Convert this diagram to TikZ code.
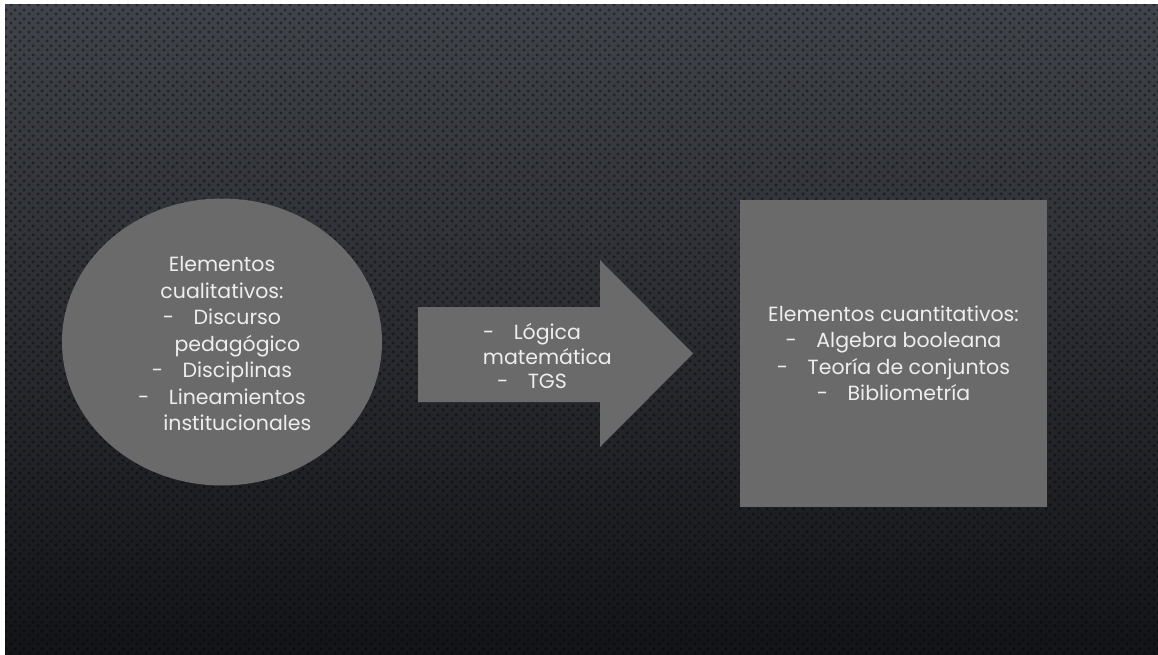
\documentclass[tikz,border=0pt]{standalone}
\usepackage{fontspec}
\setmainfont{Poppins}
\usetikzlibrary{positioning,shapes.geometric,patterns.meta}
\definecolor{fondoalto}{RGB}{64,67,73}
\definecolor{fondomedio}{RGB}{44,46,51}
\definecolor{fondobajo}{RGB}{19,20,24}
\definecolor{formagris}{RGB}{106,106,106}
\definecolor{textoclaro}{RGB}{238,238,238}
\def\sangria{\hspace*{1.5em}}
\tikzstyle{forma}=[fill=formagris,text=textoclaro,align=center,inner sep=0pt,
  font=\fontsize{20.5}{26.5}\selectfont]
\tikzstyle{texto}=[text=textoclaro,align=center,inner sep=0pt,
  font=\fontsize{20.5}{24.5}\selectfont]
\newcommand{\guion}{-\hspace{0.95em}}
\tikzdeclarepattern{
  name=puntos,
  type=uncolored,
  bounding box={(0pt,0pt) and (9pt,9pt)},
  tile size={(9pt,9pt)},
  code={
    \fill (2.25pt,2.25pt) circle (1.9pt);
    \fill (6.75pt,6.75pt) circle (1.9pt);
  }
}

\begin{document}
\begin{tikzpicture}[x=1pt,y=-1pt]
      \useasboundingbox (0,0) rectangle (1158,655);
      \fill[white] (0,0) rectangle (1158,655);
      % fondo
      \shade[top color=fondoalto,middle color=fondomedio,bottom color=fondobajo] (5,5) rectangle (1158,655);
      \fill[pattern=puntos,pattern color=black,fill opacity=0.4] (5,5) rectangle (1158,655);
      % elementos cualitativos
      \node[forma,ellipse,minimum width=320pt,minimum height=287pt] (quali) at (222,342) {};
      \node[texto,font=\fontsize{20.5}{26.5}\selectfont] (qualitxt) at (222,344)
        {Elementos\\cualitativos:\\\guion Discurso\\\sangria pedagógico\\\guion Disciplinas\\\guion Lineamientos\\\sangria institucionales};
      % flecha
      \fill[formagris] (418,307) -- (600,307) -- (600,260) -- (693,353.5)
        -- (600,447) -- (600,402) -- (418,402) -- cycle;
      \node[texto] (flecha) at (532,356)
        {\guion Lógica\\\sangria matemática\\\guion TGS};
      % elementos cuantitativos
      \node[forma,rectangle,minimum width=307pt,minimum height=307pt] (cuanti) at (893.5,353.5)
        {Elementos cuantitativos:\\\guion Algebra booleana\\\guion Teoría de conjuntos\\\guion Bibliometría};
\end{tikzpicture}
\end{document}
